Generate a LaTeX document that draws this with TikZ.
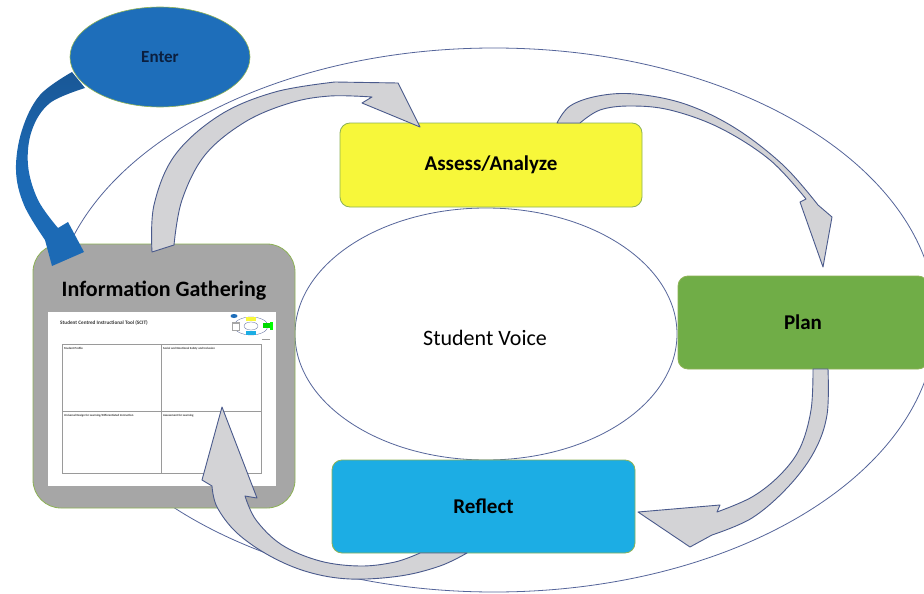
\documentclass[tikz,border=0pt]{standalone}
\usepackage{fontspec}
\setmainfont{Carlito}
\usetikzlibrary{shapes.geometric}
\definecolor{enterblue}{HTML}{1E6EBA}
\definecolor{arrowblue}{HTML}{1C6AB5}
\definecolor{arrowdark}{HTML}{195796}
\definecolor{entertext}{HTML}{0B1F3F}
\definecolor{yellowc}{HTML}{F7F73A}
\definecolor{greenc}{HTML}{70AD47}
\definecolor{cyanc}{HTML}{1CADE4}
\definecolor{grayc}{HTML}{A6A6A6}
\definecolor{bordergreen}{HTML}{8DB255}
\definecolor{ellline}{HTML}{55659A}
\definecolor{arrowfill}{HTML}{D3D3D6}
\definecolor{arrowline}{HTML}{4A5A8C}
\definecolor{tablegray}{HTML}{9A9A9A}
\begin{document}
\begin{tikzpicture}[x=1pt,y=-1pt,
  rbox/.style={draw=bordergreen, line width=0.8pt, rounded corners=10pt, inner sep=0pt, font=\fontsize{21}{25}\selectfont\bfseries},
  ellshape/.style={ellipse, draw=ellline, line width=0.8pt, inner sep=0pt},
  grayarrow/.style={fill=arrowfill, draw=arrowline, line width=0.9pt, line join=round},
  celltext/.style={anchor=north west, inner sep=0pt, font=\fontsize{3}{3.5}\selectfont\bfseries, text=black!80}
]
\useasboundingbox (0,0) rectangle (924,594);
\fill[white] (0,0) rectangle (924,594);

% outer ellipse
\draw[ellline, line width=0.8pt] (494,320) ellipse [x radius=442pt, y radius=272pt];

% inner ellipse
\node[ellshape, fill=white, minimum width=382pt, minimum height=252pt] (voice) at (486,334) {};
\node[font=\fontsize{22}{26}\selectfont] (voicetext) at (485,338) {Student Voice};

% boxes
\node[rbox, fill=yellowc, minimum width=302pt, minimum height=84pt] (assess) at (491,165) {Assess/Analyze};
\node[rbox, fill=greenc, minimum width=250pt, minimum height=93pt] (plan) at (803,322.5) {Plan};
\node[rbox, fill=cyanc, minimum width=303pt, minimum height=93pt] (reflect) at (483.5,506.5) {Reflect};

% information gathering
\node[draw=bordergreen, line width=0.8pt, fill=grayc, rounded corners=28pt, minimum width=262pt, minimum height=264pt, inner sep=0pt] (info) at (164,376) {};
\node[font=\fontsize{22}{26}\selectfont\bfseries] (infotitle) at (164,291) {Information Gathering};
\node[fill=white, minimum width=228pt, minimum height=174pt, inner sep=0pt] (doc) at (162,399) {};
\node[anchor=west, inner sep=0pt, font=\fontsize{5.2}{6}\selectfont\bfseries, text=black!80] (doctitle) at (60,323) {Student Centred Instructional Tool (SCIT)};
% table
\draw[tablegray, line width=0.5pt] (62,344) rectangle (261,473);
\draw[tablegray, line width=0.5pt] (161,344) -- (161,473);
\draw[tablegray, line width=0.5pt] (62,411) -- (261,411);
\node[celltext] (c1) at (64,347) {Student Profile};
\node[celltext] (c2) at (163,347) {Social and Emotional Safety and Inclusion};
\node[celltext] (c3) at (64,414) {Universal Design for Learning/Differentiated Instruction};
\node[celltext] (c4) at (163,414) {Assessment for Learning};
% mini picture of the cycle
\draw[ellline, line width=0.3pt] (251,326) ellipse [x radius=17pt, y radius=9pt];
\draw[ellline, line width=0.3pt] (251,326) ellipse [x radius=7pt, y radius=4pt];
\fill[enterblue] (234,316) ellipse [x radius=3.5pt, y radius=2pt];
\fill[yellowc] (246,317) rectangle (256,321);
\fill[green!85!black] (263,323) rectangle (270,328);
\fill[green] (270,322) rectangle (273,330);
\fill[cyanc] (246,331) rectangle (256,335);
\fill[grayc] (232,322) rectangle (240,331);
\fill[white] (233,324) rectangle (239,330);
\draw[tablegray, line width=0.3pt] (262,339) -- (270,339);

% Enter ellipse
\node[ellipse, draw=bordergreen, line width=0.6pt, fill=enterblue, minimum width=180pt, minimum height=100pt, inner sep=0pt, font=\fontsize{17}{20}\selectfont\bfseries, text=entertext] (enter) at (160,57) {Enter};

% blue arrow: Enter -> Information Gathering
\shade[top color=arrowdark, bottom color=arrowblue, middle color=arrowblue]
  plot[smooth, tension=0.6] coordinates {(72,72) (40,95) (22,130) (16,170) (24,205) (45,240)}
  -- (52,266) -- (84,252) -- (68,222) -- (58,228)
  -- plot[smooth, tension=0.6] coordinates {(58,228) (38,200) (28,165) (32,130) (50,103) (85,88)}
  -- cycle;

% gray arrow: Information Gathering -> Assess/Analyze
\filldraw[grayarrow]
  plot[smooth, tension=0.6] coordinates {(152,252) (154,205) (175,155) (220,115) (275,92) (335,82)}
  -- (398,83) -- (420,127) -- (362,103) -- (372,97)
  -- plot[smooth, tension=0.6] coordinates {(372,97) (330,96) (290,103) (245,122) (205,155) (182,200) (174,245)}
  -- cycle;

% gray arrow: Assess/Analyze -> Plan
\filldraw[grayarrow]
  plot[smooth, tension=0.6] coordinates {(557,123) (570,106) (598,96) (635,94) (685,104) (735,128) (783,165) (818,205)}
  -- (832,217) -- (823,267) -- (800,202) -- (806,199)
  -- plot[smooth, tension=0.6] coordinates {(806,199) (770,160) (720,128) (670,110) (630,106) (600,110) (580,123)}
  -- cycle;

% gray arrow: Plan -> Reflect
\filldraw[grayarrow]
  plot[smooth, tension=0.6] coordinates {(828,369) (827,415) (814,452) (788,487) (752,518) (712,535)}
  -- (690,547) -- (638,512) -- (720,505) -- (717,512)
  -- plot[smooth, tension=0.6] coordinates {(717,512) (752,497) (780,475) (800,448) (811,410) (813,369)}
  -- cycle;

% gray arrow: Reflect -> Information Gathering
\filldraw[grayarrow]
  plot[smooth, tension=0.6] coordinates {(467,553) (440,566) (400,576) (350,579) (308,572) (270,556) (237,533) (217,507) (212,486)}
  -- (202,480) -- (222,407) -- (257,498) -- (245,496)
  -- plot[smooth, tension=0.6] coordinates {(245,496) (256,520) (282,545) (320,561) (360,566) (395,562) (420,553)}
  -- cycle;
\end{tikzpicture}
\end{document}
